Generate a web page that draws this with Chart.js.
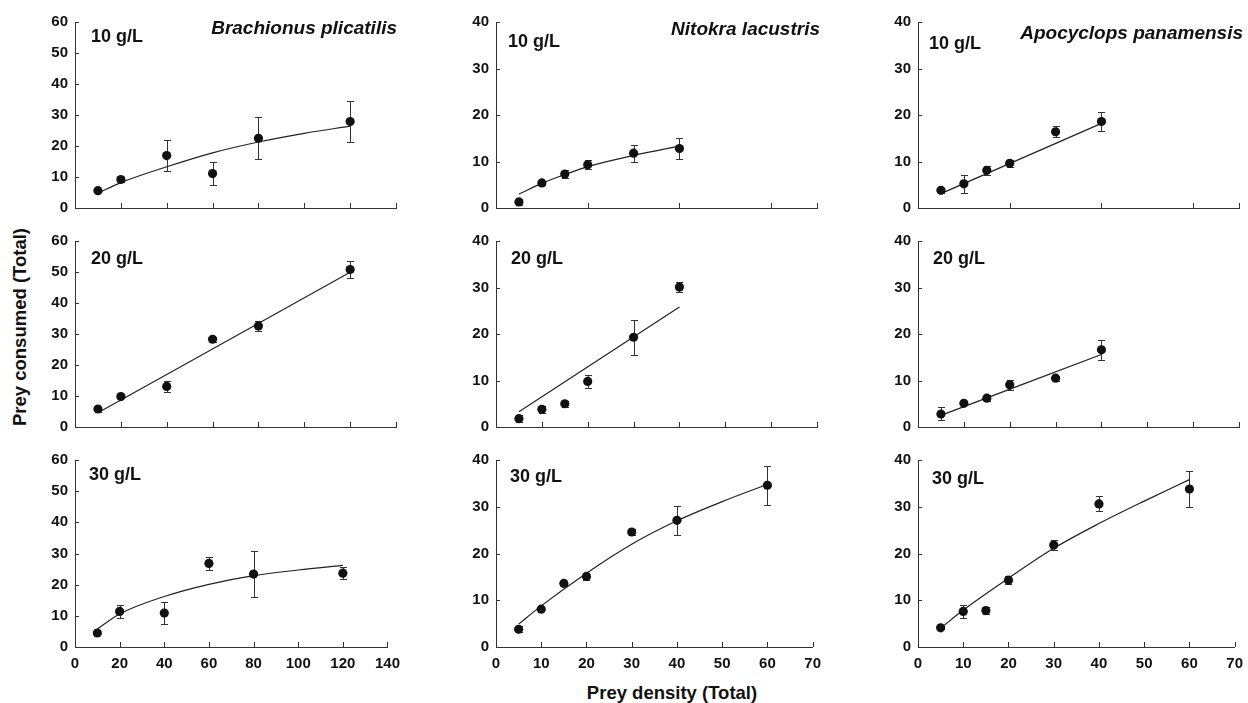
<!DOCTYPE html>
<html>
<head>
<meta charset="utf-8">
<script src="https://cdn.jsdelivr.net/npm/chart.js@4.4.1/dist/chart.umd.min.js"></script>
<style>
  html, body { margin: 0; padding: 0; background: #fff; overflow: hidden; }
  #wrap { position: relative; width: 1248px; height: 703px; }
  #wrap canvas { position: absolute; }
  .axis-title { position: absolute; font: bold 18.5px "Liberation Sans", Arial, sans-serif; color: #111; white-space: nowrap; }
  #xt { left: 672px; top: 693px; transform: translate(-50%, -50%); }
  #yt { left: 20px; top: 327px; transform: translate(-50%, -50%) rotate(-90deg); }
</style>
</head>
<body>
<div id="wrap">
  <div class="axis-title" id="xt">Prey density (Total)</div>
  <div class="axis-title" id="yt">Prey consumed (Total)</div>
</div>
<script>
// prey densities offered
const bpDensity = [10, 20, 40, 60, 80, 120];
const copDensity = [5, 10, 15, 20, 30, 40];
const copDensity30 = [5, 10, 15, 20, 30, 40, 60];

// Brachionus plicatilis (mean ± SE)
const bp10Mean = [5.6, 9.2, 16.9, 11.1, 22.5, 27.9];
const bp10Err = [0.5, 0.9, 5.0, 3.7, 6.8, 6.7];
const bp20Mean = [5.8, 9.8, 13.1, 28.3, 32.6, 50.8];
const bp20Err = [0.8, 0.5, 1.7, 0.8, 1.6, 2.7];
const bp30Mean = [4.5, 11.4, 10.9, 26.8, 23.4, 23.7];
const bp30Err = [0.5, 2.0, 3.5, 2.0, 7.3, 2.0];

// Nitokra lacustris
const nl10Mean = [1.3, 5.4, 7.3, 9.3, 11.8, 12.8];
const nl10Err = [0.6, 0.5, 0.9, 1.0, 1.8, 2.2];
const nl20Mean = [1.8, 3.8, 5.0, 9.8, 19.3, 30.1];
const nl20Err = [0.8, 0.7, 0.6, 1.4, 3.8, 1.1];
const nl30Mean = [3.8, 8.1, 13.6, 15.1, 24.6, 27.1, 34.6];
const nl30Err = [0.6, 0.4, 0.4, 0.7, 0.7, 3.1, 4.2];

// Apocyclops panamensis
const ap10Mean = [3.8, 5.2, 8.1, 9.6, 16.4, 18.6];
const ap10Err = [0.6, 1.9, 1.0, 0.8, 1.2, 2.1];
const ap20Mean = [2.8, 5.1, 6.2, 9.1, 10.5, 16.6];
const ap20Err = [1.4, 0.4, 0.7, 1.1, 0.5, 2.1];
const ap30Mean = [4.1, 7.6, 7.8, 14.3, 21.8, 30.6, 33.8];
const ap30Err = [0.3, 1.4, 0.8, 0.9, 1.0, 1.6, 3.9];

// fitted curves
const bp10FitX = [10, 20, 40, 60, 80, 100, 120];
const bp10FitY = [4.8, 8.2, 13.3, 17.8, 21.3, 24.1, 26.4];
const bp20FitX = [10, 120];
const bp20FitY = [4.6, 49.9];
const bp30FitX = [10, 20, 40, 60, 80, 100, 120];
const bp30FitY = [5.8, 10.6, 16.2, 20.1, 22.9, 24.7, 26.2];
const nl10FitX = [5, 10, 15, 20, 30, 40];
const nl10FitY = [3.0, 5.3, 7.2, 8.9, 11.3, 13.3];
const nl20FitX = [5, 40];
const nl20FitY = [3.3, 25.8];
const nl30FitX = [5, 10, 20, 30, 40, 50, 60];
const nl30FitY = [4.9, 8.8, 15.8, 22.0, 27.0, 31.1, 34.8];
const ap10FitX = [5, 40];
const ap10FitY = [3.1, 18.2];
const ap20FitX = [5, 40];
const ap20FitY = [2.5, 15.6];
const ap30FitX = [5, 10, 20, 30, 40, 50, 60];
const ap30FitY = [4.0, 7.9, 14.7, 21.1, 26.4, 31.2, 35.8];

// tick values
const bpXTicks = [0, 20, 40, 60, 80, 100, 120, 140];
const copXTicks = [0, 10, 20, 30, 40, 50, 60, 70];
const copXTicksTop = [0, 20, 40, 60, 70];
const bpYTicks = [0, 10, 20, 30, 40, 50, 60];
const copYTicks = [0, 10, 20, 30, 40];

const species = ["Brachionus plicatilis", "Nitokra lacustris", "Apocyclops panamensis"];
const salinity = ["10 g/L", "20 g/L", "30 g/L"];

// plot-area edges in page pixels
const colX = [[75, 396], [496, 817], [918, 1239]];
const rowY = [[20, 208], [239, 427], [458, 647]];

const panels = [
  { r: 0, c: 0, x: bpDensity, mean: bp10Mean, err: bp10Err, fx: bp10FitX, fy: bp10FitY, xt: bpXTicks, yt: bpYTicks, lab: [16, 20], sp: [1, 12] },
  { r: 0, c: 1, x: copDensity, mean: nl10Mean, err: nl10Err, fx: nl10FitX, fy: nl10FitY, xt: copXTicksTop, yt: copYTicks, lab: [12, 25], sp: [3, 13] },
  { r: 0, c: 2, x: copDensity, mean: ap10Mean, err: ap10Err, fx: ap10FitX, fy: ap10FitY, xt: copXTicksTop, yt: copYTicks, lab: [11, 27], sp: [4, 17] },
  { r: 1, c: 0, x: bpDensity, mean: bp20Mean, err: bp20Err, fx: bp20FitX, fy: bp20FitY, xt: bpXTicks, yt: bpYTicks, lab: [16, 23] },
  { r: 1, c: 1, x: copDensity, mean: nl20Mean, err: nl20Err, fx: nl20FitX, fy: nl20FitY, xt: copXTicks, yt: copYTicks, lab: [15, 23] },
  { r: 1, c: 2, x: copDensity, mean: ap20Mean, err: ap20Err, fx: ap20FitX, fy: ap20FitY, xt: copXTicks, yt: copYTicks, lab: [15, 23] },
  { r: 2, c: 0, x: bpDensity, mean: bp30Mean, err: bp30Err, fx: bp30FitX, fy: bp30FitY, xt: bpXTicks, yt: bpYTicks, lab: [14, 20] },
  { r: 2, c: 1, x: copDensity30, mean: nl30Mean, err: nl30Err, fx: nl30FitX, fy: nl30FitY, xt: copXTicks, yt: copYTicks, lab: [14, 22] },
  { r: 2, c: 2, x: copDensity30, mean: ap30Mean, err: ap30Err, fx: ap30FitX, fy: ap30FitY, xt: copXTicks, yt: copYTicks, lab: [14, 24] },
];

const FONT = '"Liberation Sans", Arial, sans-serif';
const INK = "#111";
const AXIS = "#333";
const Y_W = 60, X_H = 30, PAD_T = 14, PAD_R = 12;

Chart.defaults.font.family = FONT;
Chart.defaults.color = INK;

// error bars under the dots, inward ticks and panel labels on top
const decor = {
  id: "decor",
  beforeDatasetsDraw(chart, args, o) {
    const { ctx } = chart;
    const xs = chart.scales.x, ys = chart.scales.y;
    ctx.save();
    ctx.strokeStyle = AXIS;
    ctx.lineWidth = 1;
    chart.data.datasets[0].data.forEach((p, i) => {
      const px = Math.round(xs.getPixelForValue(p.x)) + 0.5;
      const y1 = Math.round(ys.getPixelForValue(p.y + o.err[i])) + 0.5;
      const y2 = Math.round(ys.getPixelForValue(p.y - o.err[i])) + 0.5;
      ctx.beginPath();
      ctx.moveTo(px, y1); ctx.lineTo(px, y2);
      ctx.moveTo(px - 3.5, y1); ctx.lineTo(px + 3.5, y1);
      ctx.moveTo(px - 3.5, y2); ctx.lineTo(px + 3.5, y2);
      ctx.stroke();
    });
    ctx.restore();
  },
  afterDraw(chart, args, o) {
    const { ctx, chartArea: a } = chart;
    const xs = chart.scales.x, ys = chart.scales.y;
    ctx.save();
    ctx.strokeStyle = AXIS;
    ctx.lineWidth = 1;
    ctx.beginPath();
    xs.ticks.forEach((t) => {
      if (t.value === 0) return;
      const px = Math.round(xs.getPixelForValue(t.value)) + 0.5;
      ctx.moveTo(px, a.bottom); ctx.lineTo(px, a.bottom - 5);
    });
    ys.ticks.forEach((t) => {
      if (t.value === 0) return;
      const py = Math.round(ys.getPixelForValue(t.value)) + 0.5;
      ctx.moveTo(a.left, py); ctx.lineTo(a.left + 4, py);
    });
    ctx.stroke();

    ctx.fillStyle = INK;
    ctx.textBaseline = "alphabetic";
    ctx.font = "bold 18px " + FONT;
    ctx.textAlign = "left";
    ctx.fillText(o.label, a.left + o.lab[0], a.top + o.lab[1]);
    if (o.species) {
      ctx.font = "italic bold 19px " + FONT;
      ctx.textAlign = "right";
      ctx.fillText(o.species, a.right + o.sp[0], a.top + o.sp[1]);
    }
    ctx.restore();
  },
};

const wrap = document.getElementById("wrap");

panels.forEach((p) => {
  const [l, r] = colX[p.c];
  const [t, b] = rowY[p.r];
  const cv = document.createElement("canvas");
  const w = (r - l) + Y_W + PAD_R;
  const h = (b - t) + PAD_T + X_H;
  cv.width = w; cv.height = h;
  cv.style.width = w + "px"; cv.style.height = h + "px";
  cv.style.left = (l - Y_W) + "px";
  cv.style.top = (t - PAD_T) + "px";
  wrap.appendChild(cv);

  const xMax = p.xt[p.xt.length - 1];
  const yMax = p.yt[p.yt.length - 1];

  new Chart(cv, {
    data: {
      datasets: [
        {
          type: "scatter",
          data: p.x.map((v, i) => ({ x: v, y: p.mean[i] })),
          pointRadius: 4.6,
          pointBackgroundColor: INK,
          pointBorderWidth: 0,
        },
        {
          type: "line",
          data: p.fx.map((v, i) => ({ x: v, y: p.fy[i] })),
          borderColor: "#222",
          borderWidth: 1.2,
          pointRadius: 0,
          fill: false,
          cubicInterpolationMode: "monotone",
        },
      ],
    },
    options: {
      responsive: false,
      devicePixelRatio: 1,
      animation: false,
      events: [],
      layout: { padding: { left: 0, top: PAD_T, right: PAD_R, bottom: 0 } },
      plugins: {
        legend: { display: false },
        tooltip: { enabled: false },
        decor: { err: p.err, label: salinity[p.r], lab: p.lab, species: p.r === 0 ? species[p.c] : null, sp: p.sp },
      },
      scales: {
        x: {
          type: "linear",
          min: 0,
          max: xMax,
          afterBuildTicks: (s) => { s.ticks = p.xt.map((v) => ({ value: v })); },
          afterFit: (s) => { s.height = X_H; },
          grid: { display: false, drawTicks: false },
          border: { display: true, color: AXIS, width: 1 },
          ticks: { display: p.r === 2, padding: 8, maxRotation: 0, autoSkip: false, font: { size: 15, weight: "bold" }, color: INK },
        },
        y: {
          type: "linear",
          min: 0,
          max: yMax,
          afterBuildTicks: (s) => { s.ticks = p.yt.map((v) => ({ value: v })); },
          afterFit: (s) => { s.width = Y_W; },
          grid: { display: false, drawTicks: false },
          border: { display: true, color: AXIS, width: 1 },
          ticks: { padding: 7, font: { size: 15, weight: "bold" }, color: INK },
        },
      },
    },
    plugins: [decor],
  });
});
</script>
</body>
</html>
